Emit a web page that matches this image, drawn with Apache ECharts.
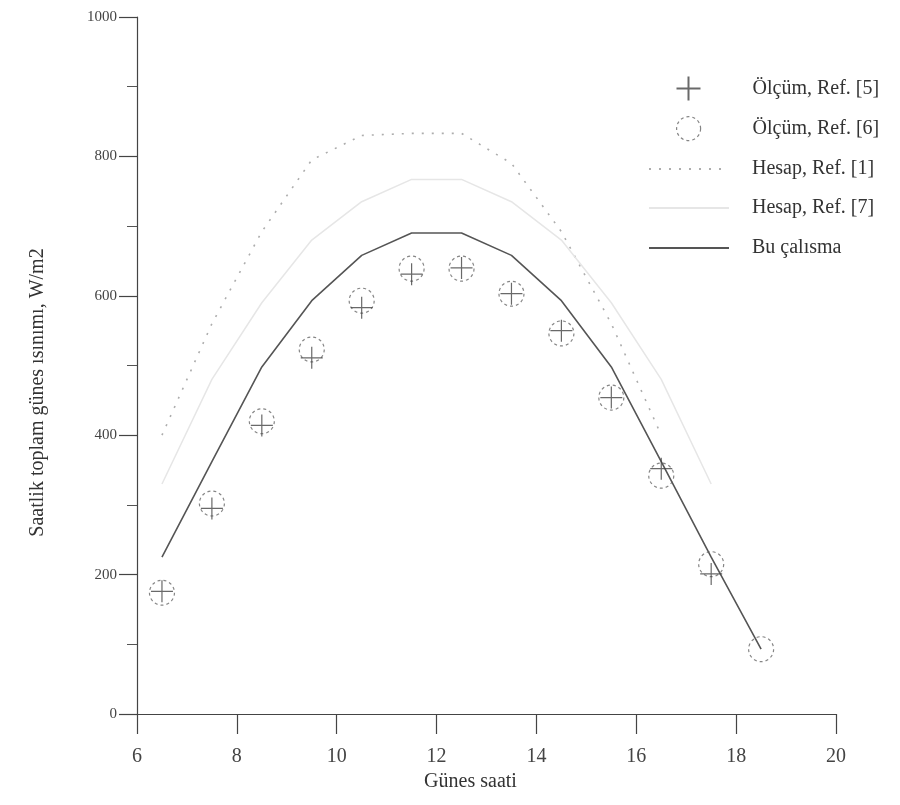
<!DOCTYPE html>
<html>
<head>
<meta charset="utf-8">
<script src="https://cdn.jsdelivr.net/npm/echarts@6/dist/echarts.min.js"></script>
<style>html,body{margin:0;padding:0;background:#fff}#c{width:900px;height:805px}</style>
</head>
<body>
<div id="c"></div>
<script>
const hours = [6.5, 7.5, 8.5, 9.5, 10.5, 11.5, 12.5, 13.5, 14.5, 15.5, 16.5, 17.5, 18.5];
const olcumRef5 = [176, 295, 414, 511, 583, 631, 640, 603, 550, 454, 352, 201];
const olcumRef6 = [174, 302, 420, 523, 593, 639, 639, 603, 546, 454, 342, 215, 93];
const hesapRef1 = [400, 560, 692, 795, 830, 833, 833, 790, 692, 560, 400];
const hesapRef7 = [330, 480, 590, 680, 735, 767, 767, 735, 680, 590, 480, 330];
const buCalisma = [225, 362, 498, 593, 658, 690, 690, 658, 593, 498, 362, 225, 93];
const xTicks = [6, 8, 10, 12, 14, 16, 18, 20];
const yTicks = [0, 200, 400, 600, 800, 1000];
const names = ['Ölçüm, Ref. [5]', 'Ölçüm, Ref. [6]', 'Hesap, Ref. [1]', 'Hesap, Ref. [7]', 'Bu çalısma'];

const pairs = (arr) => arr.map((v, i) => [hours[i], v]);
const FONT = 'Liberation Serif';

const crossStyle = {color: 'none', borderColor: '#444', borderWidth: 1.2};
const circleStyle = {color: 'rgba(0,0,0,0)', borderColor: '#666', borderWidth: 1.2, borderType: [3, 3]};

const legendLayout = [
  {left: 674, top: 74, w: 24, pad: 47},
  {left: 676, top: 116, w: 24, pad: 47},
  {left: 648, top: 159, w: 80, pad: 18},
  {left: 648, top: 198, w: 80, pad: 18},
  {left: 648, top: 238, w: 80, pad: 18}
];
const legends = names.map((n, i) => ({
  orient: 'vertical', left: legendLayout[i].left, top: legendLayout[i].top, padding: 0,
  itemWidth: legendLayout[i].w, itemHeight: 24, itemGap: 0,
  textStyle: {fontFamily: FONT, fontSize: 20, color: '#333', padding: [0, 0, 0, legendLayout[i].pad]},
  data: [i >= 2 ? {name: n, itemStyle: {opacity: 0}} : (i === 1 ? {name: n, itemStyle: circleStyle} : {name: n})]
}));

const chart = echarts.init(document.getElementById('c'), null, {renderer: 'canvas'});
chart.setOption({
  animation: false,
  backgroundColor: '#fff',
  grid: {left: 137, right: 64, top: 17, bottom: 91, containLabel: false},
  legend: legends,
  xAxis: {
    type: 'value', min: xTicks[0], max: xTicks[xTicks.length - 1], interval: 2,
    name: 'Günes saati', nameLocation: 'middle', nameGap: 58,
    nameTextStyle: {fontFamily: FONT, fontSize: 20, color: '#333', padding: [0, 32, 0, 0]},
    axisLine: {lineStyle: {color: '#444', width: 1.2}},
    axisTick: {show: true, inside: false, length: 20, lineStyle: {color: '#444', width: 1.2}},
    axisLabel: {fontFamily: FONT, fontSize: 20, color: '#444', margin: 33},
    splitLine: {show: false}
  },
  yAxis: {
    type: 'value', min: yTicks[0], max: yTicks[yTicks.length - 1], interval: 200,
    name: 'Saatlik toplam günes ısınımı, W/m2', nameLocation: 'middle', nameGap: 89,
    nameTextStyle: {fontFamily: FONT, fontSize: 20, color: '#333', padding: [0, 54, 0, 0]},
    axisLine: {show: true, lineStyle: {color: '#444', width: 1.2}},
    axisTick: {show: true, inside: false, length: 18, lineStyle: {color: '#444', width: 1.2}},
    minorTick: {show: true, splitNumber: 2, length: 10, lineStyle: {color: '#555', width: 1}},
    axisLabel: {fontFamily: FONT, fontSize: 15, color: '#444', margin: 20, formatter: (v) => String(v)},
    splitLine: {show: false}
  },
  series: [
    {
      name: names[0], type: 'scatter', data: pairs(olcumRef5),
      symbol: 'path://M0,10L20,10M10,0L10,20', symbolSize: 22,
      itemStyle: crossStyle, z: 4
    },
    {
      name: names[1], type: 'scatter', data: pairs(olcumRef6),
      symbol: 'circle', symbolSize: 25,
      itemStyle: circleStyle, z: 3
    },
    {
      name: names[2], type: 'line', data: pairs(hesapRef1), symbol: 'none',
      itemStyle: {color: '#aaa'},
      lineStyle: {color: '#adadad', width: 1.6, type: [2, 8]}
    },
    {
      name: names[3], type: 'line', data: pairs(hesapRef7), symbol: 'none',
      itemStyle: {color: '#e6e6e6'},
      lineStyle: {color: '#e6e6e6', width: 1.5}
    },
    {
      name: names[4], type: 'line', data: pairs(buCalisma), symbol: 'none',
      itemStyle: {color: '#555'},
      lineStyle: {color: '#555', width: 1.6}
    }
  ]
});
</script>
</body>
</html>
